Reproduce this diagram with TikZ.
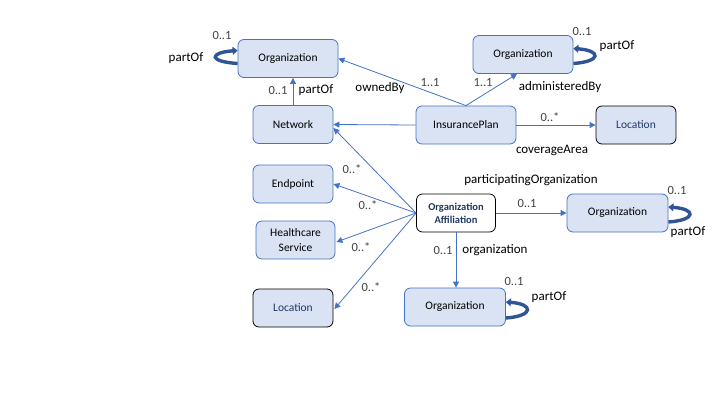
\documentclass[tikz,border=0pt]{standalone}
\usepackage{fontspec}
\setmainfont{Carlito}
\usetikzlibrary{arrows.meta}
\definecolor{bfill}{HTML}{DAE3F3}
\definecolor{bline}{HTML}{4472C4}
\definecolor{dblue}{HTML}{203864}
\definecolor{loopc}{HTML}{2F5597}
\definecolor{mult}{HTML}{404040}
\begin{document}
\begin{tikzpicture}[x=1pt,y=-1pt,
  cls/.style={draw=bline, fill=bfill, rounded corners=6pt, line width=0.8pt, minimum height=38pt, inner sep=1pt, align=center, font=\fontsize{11.5}{13}\selectfont},
  blk/.style={cls, draw=black, text=dblue},
  assoc/.style={draw=bline, line width=0.8pt, -{Triangle[width=6pt,length=6pt]}},
  selfloop/.style={draw=loopc, line width=3.4pt, -{Triangle[width=8pt,length=5pt]}},
  lbl/.style={font=\fontsize{13}{15}\selectfont, inner sep=0pt},
  mlt/.style={font=\fontsize{12.5}{15}\selectfont, text=mult, inner sep=0pt}]
\useasboundingbox (0,0) rectangle (720,405);

% nodes
\node[cls, minimum width=100pt] (orgTL) at (288,58.5) {Organization};
\node[cls, minimum width=80pt] (net) at (293,124.5) {Network};
\node[cls, minimum width=100pt] (orgTR) at (523,54.5) {Organization};
\node[cls, minimum width=100pt] (ip) at (466,125) {InsurancePlan};
\node[blk, minimum width=80pt] (locR) at (636,125) {Location};
\node[cls, minimum width=80pt] (ep) at (293,184) {Endpoint};
\node[cls, minimum width=79pt, font=\fontsize{11.5}{15}\selectfont] (hs) at (295.5,240) {Healthcare\\Service};
\node[blk, minimum width=80pt] (locL) at (293,308) {Location};
\node[cls, draw=black, fill=white, text=dblue, minimum width=79pt, font=\bfseries\fontsize{10.5}{13}\selectfont] (oa) at (456,213) {Organization\\Affiliation};
\node[cls, minimum width=101pt] (orgMR) at (617.5,213) {Organization};
\node[cls, minimum width=101pt] (orgB) at (455,307) {Organization};

% connectors
\draw[assoc] (net.north) -- (net.north |- orgTL.south);
\draw[assoc] (ip.north) -- (orgTL.east);
\draw[assoc] (ip.north) -- ([xshift=-6pt]orgTR.south);
\draw[assoc] (ip.west) -- (net.east);
\draw[assoc] (ip.east) -- (locR.west);
\coordinate (netE) at ([yshift=-3.5pt]net.east);
\draw[assoc] (oa.west) -- (netE);
\draw[assoc] (oa.west) -- (ep.east);
\draw[assoc] (oa.west) -- ([xshift=1pt,yshift=-2pt]hs.east);
\draw[assoc] (oa.west) -- ([xshift=1pt,yshift=-1pt]locL.east);
\draw[assoc] (oa.east) -- (orgMR.west);
\draw[assoc] (oa.south) -- (oa.south |- orgB.north);

% self loops
\draw[selfloop] ([yshift=-5pt]orgTL.west) .. controls +(-30,-2) and +(-28,2) .. ([yshift=8pt]orgTL.west);
\draw[selfloop] ([yshift=-9pt]orgTR.east) .. controls +(28,-2) and +(28,2) .. ([yshift=6pt]orgTR.east);
\draw[selfloop] ([yshift=-9pt]orgMR.east) .. controls +(28,-2) and +(28,2) .. ([yshift=6pt]orgMR.east);
\draw[selfloop] ([yshift=-11pt]orgB.east) .. controls +(28,-2) and +(28,2) .. ([yshift=5pt]orgB.east);

% labels
\node[mlt] (m1) at (278,90) {0..1};
\node[lbl] (l1) at (316,90) {partOf};
\node[mlt] (m2) at (222,35) {0..1};
\node[lbl] (l2) at (186,58) {partOf};
\node[lbl] (l3) at (380,88) {ownedBy};
\node[mlt] (m3) at (430,83) {1..1};
\node[mlt] (m4) at (483,83) {1..1};
\node[lbl] (l4) at (560,87) {administeredBy};
\node[mlt] (m5) at (582,31) {0..1};
\node[lbl] (l5) at (617,46) {partOf};
\node[mlt] (m6) at (550,117) {0..*};
\node[lbl] (l6) at (552,150) {coverageArea};
\node[mlt] (m7) at (352,169) {0..*};
\node[mlt] (m8) at (368,205) {0..*};
\node[mlt] (m9) at (361,247) {0..*};
\node[mlt] (m10) at (371,287) {0..*};
\node[lbl] (l7) at (531,180) {participatingOrganization};
\node[mlt] (m11) at (527,203) {0..1};
\node[mlt] (m12) at (677,190) {0..1};
\node[lbl] (l8) at (688,232) {partOf};
\node[mlt] (m13) at (443,250) {0..1};
\node[lbl] (l9) at (495,250) {organization};
\node[mlt] (m14) at (514,281) {0..1};
\node[lbl] (l10) at (549,297) {partOf};
\end{tikzpicture}
\end{document}
